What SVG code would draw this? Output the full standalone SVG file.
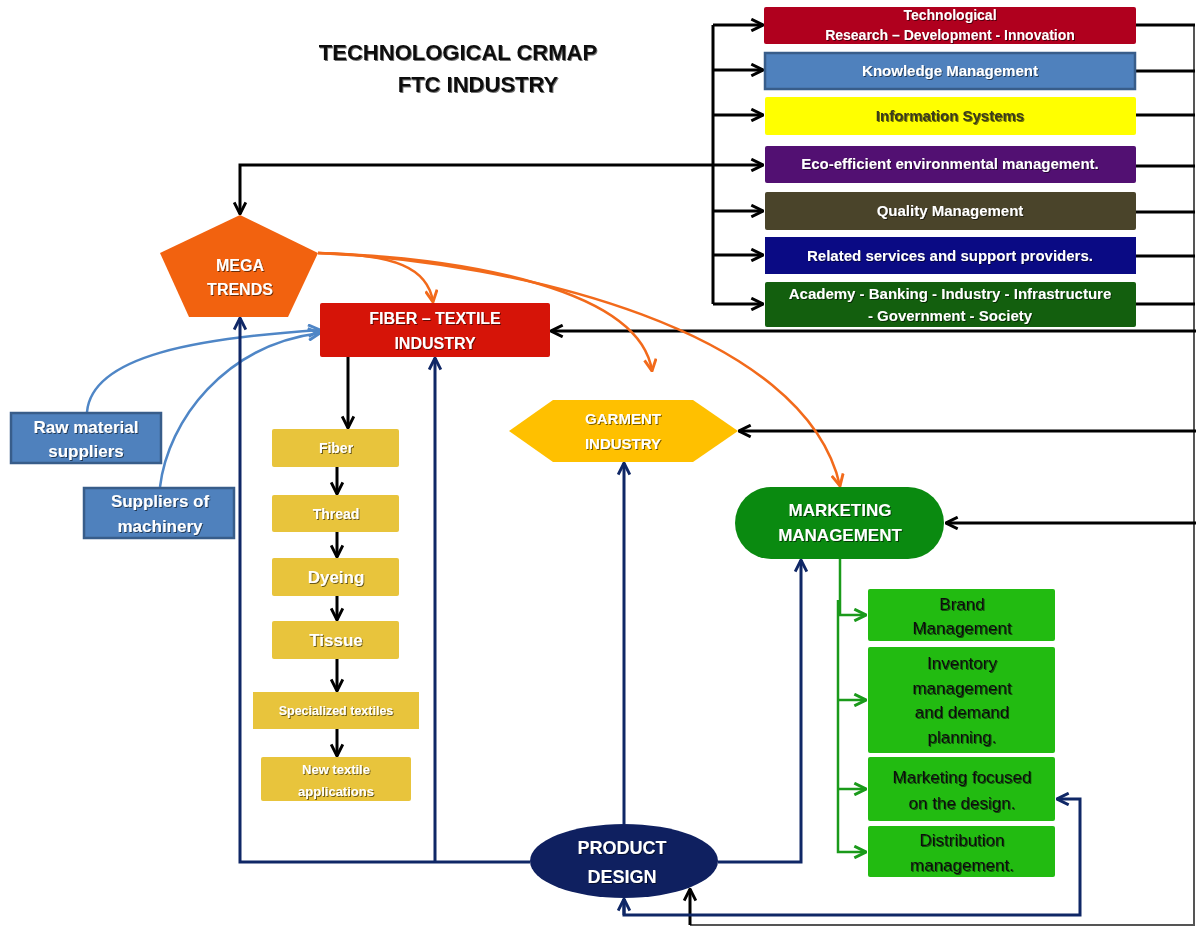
<svg xmlns="http://www.w3.org/2000/svg" width="1196" height="926" viewBox="0 0 1196 926">
<style>
text{font-family:"Liberation Sans",Arial,sans-serif;text-anchor:middle}
.w{fill:#fff;font-weight:bold}
.k{fill:#111}
.sh{filter:url(#sh)}
.bl{fill:none;stroke:#000;stroke-width:3}
.nv{fill:none;stroke:#0f2766;stroke-width:3}
.or{fill:none;stroke:#f26a1b;stroke-width:2.5}
.lb{fill:none;stroke:#4f86c6;stroke-width:2.5}
.gr{fill:none;stroke:#1a9a1a;stroke-width:2.5}
.yb{fill:#e8c43c}
.gb{fill:#22bb11}
</style>
<defs>
<filter id="sh" x="-10%" y="-30%" width="120%" height="160%"><feDropShadow dx="1" dy="1" stdDeviation="0.6" flood-color="#000" flood-opacity="0.55"/></filter>
<marker id="aK" viewBox="0 0 12 12" refX="11" refY="6" markerWidth="14" markerHeight="14" markerUnits="userSpaceOnUse" orient="auto"><path d="M1,1 L11,6 L1,11" fill="none" stroke="#000" stroke-width="2.5"/></marker>
<marker id="aN" viewBox="0 0 12 12" refX="11" refY="6" markerWidth="14" markerHeight="14" markerUnits="userSpaceOnUse" orient="auto"><path d="M1,1 L11,6 L1,11" fill="none" stroke="#0f2766" stroke-width="2.5"/></marker>
<marker id="aO" viewBox="0 0 12 12" refX="11" refY="6" markerWidth="14" markerHeight="14" markerUnits="userSpaceOnUse" orient="auto"><path d="M1,1 L11,6 L1,11" fill="none" stroke="#f26a1b" stroke-width="2.5"/></marker>
<marker id="aB" viewBox="0 0 12 12" refX="11" refY="6" markerWidth="14" markerHeight="14" markerUnits="userSpaceOnUse" orient="auto"><path d="M1,1 L11,6 L1,11" fill="none" stroke="#4f86c6" stroke-width="2.5"/></marker>
<marker id="aG" viewBox="0 0 12 12" refX="11" refY="6" markerWidth="14" markerHeight="14" markerUnits="userSpaceOnUse" orient="auto"><path d="M1,1 L11,6 L1,11" fill="none" stroke="#1a9a1a" stroke-width="2.5"/></marker>
</defs>
<rect width="1196" height="926" fill="#fff"/>

<g id="title">
<text x="458" y="60" class="sh" style="font-size:22px;font-weight:bold;fill:#111">TECHNOLOGICAL CRMAP</text>
<text x="478" y="92" class="sh" style="font-size:22px;font-weight:bold;fill:#111">FTC INDUSTRY</text>
</g>

<g id="connectors">
<path d="M1194,25 V925 H690" fill="none" stroke="#555" stroke-width="2"/>
<path class="bl" d="M713,25 V304"/>
<path class="bl" d="M713,25 H763" marker-end="url(#aK)"/>
<path class="bl" d="M713,70 H763" marker-end="url(#aK)"/>
<path class="bl" d="M713,115 H763" marker-end="url(#aK)"/>
<path class="bl" d="M713,165 H763" marker-end="url(#aK)"/>
<path class="bl" d="M713,211 H763" marker-end="url(#aK)"/>
<path class="bl" d="M713,255 H763" marker-end="url(#aK)"/>
<path class="bl" d="M713,304 H763" marker-end="url(#aK)"/>
<path class="bl" d="M713,165 H240 V214" marker-end="url(#aK)"/>
<path class="bl" d="M1136,25 H1195 M1136,71 H1195 M1136,115 H1195 M1136,166 H1195 M1136,212 H1195 M1136,256 H1195 M1136,304 H1195"/>
<path class="bl" d="M1196,331 H551" marker-end="url(#aK)"/>
<path class="bl" d="M1196,431 H739" marker-end="url(#aK)"/>
<path class="bl" d="M1196,523 H946" marker-end="url(#aK)"/>
<path class="bl" d="M690,925 V889" marker-end="url(#aK)"/>
<path class="bl" d="M348,357 V428" marker-end="url(#aK)"/>
<path class="bl" d="M337,467 V494" marker-end="url(#aK)"/>
<path class="bl" d="M337,532 V557" marker-end="url(#aK)"/>
<path class="bl" d="M337,596 V620" marker-end="url(#aK)"/>
<path class="bl" d="M337,659 V691" marker-end="url(#aK)"/>
<path class="bl" d="M337,729 V756" marker-end="url(#aK)"/>
<path class="or" d="M318,253 C395,254 428,268 433,302" marker-end="url(#aO)"/>
<path class="or" d="M318,253 C470,258 640,290 652,371" marker-end="url(#aO)"/>
<path class="or" d="M318,253 C520,262 805,330 840,486" marker-end="url(#aO)"/>
<path class="lb" d="M87,412 C92,355 200,338 320,330" marker-end="url(#aB)"/>
<path class="lb" d="M160,487 C168,420 225,345 320,333" marker-end="url(#aB)"/>
<path class="nv" d="M530,862 H240 V318" marker-end="url(#aN)"/>
<path class="nv" d="M435,862 V358" marker-end="url(#aN)"/>
<path class="nv" d="M624,824 V463" marker-end="url(#aN)"/>
<path class="nv" d="M718,862 H801 V560" marker-end="url(#aN)"/>
<path class="nv" d="M624,899 V915 H1080 V799 H1057" marker-end="url(#aN)"/>
<path class="nv" d="M624,915 V899" marker-end="url(#aN)"/>
<path class="gr" d="M840,559 V615 H866" marker-end="url(#aG)"/>
<path class="gr" d="M838,600 V852 H866" marker-end="url(#aG)"/>
<path class="gr" d="M838,700 H866" marker-end="url(#aG)"/>
<path class="gr" d="M838,789 H866" marker-end="url(#aG)"/>
</g>

<g id="n-research"><rect x="764" y="7" width="372" height="37" rx="2" fill="#b0001e"/>
<text class="w sh" x="950" y="20" style="font-size:14px">Technological</text>
<text class="w sh" x="950" y="40" style="font-size:14px">Research – Development - Innovation</text></g>
<g id="n-knowledge"><rect x="765" y="53" width="370" height="36" fill="#4f81bd" stroke="#385d8a" stroke-width="2.5"/>
<text class="w sh" x="950" y="76" style="font-size:15px">Knowledge Management</text></g>
<g id="n-info"><rect x="765" y="97" width="371" height="38" rx="2" fill="#ffff00"/>
<text class="sh" x="950" y="121" style="font-size:15px;font-weight:bold;fill:#3a3a1a">Information Systems</text></g>
<g id="n-eco"><rect x="765" y="146" width="371" height="37" rx="2" fill="#521072"/>
<text class="w sh" x="950" y="169" style="font-size:15px">Eco-efficient environmental management.</text></g>
<g id="n-quality"><rect x="765" y="192" width="371" height="38" rx="2" fill="#4a442a"/>
<text class="w sh" x="950" y="216" style="font-size:15px">Quality Management</text></g>
<g id="n-related"><rect x="765" y="237" width="371" height="37" fill="#0a0a84"/>
<text class="w sh" x="950" y="261" style="font-size:15px">Related services and support providers.</text></g>
<g id="n-academy"><rect x="765" y="282" width="371" height="45" rx="2" fill="#135f0e"/>
<text class="w sh" x="950" y="299" style="font-size:15px">Academy - Banking - Industry - Infrastructure</text>
<text class="w sh" x="950" y="321" style="font-size:15px">- Government - Society</text></g>

<g id="n-mega"><polygon points="240,215 318,253 288,317 189,317 160,253" fill="#f2620f"/>
<text class="w sh" x="240" y="271" style="font-size:16px">MEGA</text>
<text class="w sh" x="240" y="295" style="font-size:16px">TRENDS</text></g>

<g id="n-fiber"><rect x="320" y="303" width="230" height="54" rx="2" fill="#d61408"/>
<text class="w sh" x="435" y="324" style="font-size:16px">FIBER – TEXTILE</text>
<text class="w sh" x="435" y="349" style="font-size:16px">INDUSTRY</text></g>

<g id="n-raw"><rect x="11" y="413" width="150" height="50" fill="#4f81bd" stroke="#385d8a" stroke-width="2.5"/>
<text class="w sh" x="86" y="433" style="font-size:17px">Raw material</text>
<text class="w sh" x="86" y="457" style="font-size:17px">suppliers</text></g>
<g id="n-machinery"><rect x="84" y="488" width="150" height="50" fill="#4f81bd" stroke="#385d8a" stroke-width="2.5"/>
<text class="w sh" x="160" y="507" style="font-size:17px">Suppliers of</text>
<text class="w sh" x="160" y="532" style="font-size:17px">machinery</text></g>

<g id="n-p-fiber"><rect class="yb" x="272" y="429" width="127" height="38" rx="2"/><text class="w sh" x="336" y="453" style="font-size:14px">Fiber</text></g>
<g id="n-p-thread"><rect class="yb" x="272" y="495" width="127" height="37" rx="2"/><text class="w sh" x="336" y="519" style="font-size:14px">Thread</text></g>
<g id="n-p-dyeing"><rect class="yb" x="272" y="558" width="127" height="38" rx="2"/><text class="w sh" x="336" y="583" style="font-size:17px">Dyeing</text></g>
<g id="n-p-tissue"><rect class="yb" x="272" y="621" width="127" height="38" rx="2"/><text class="w sh" x="336" y="646" style="font-size:17px">Tissue</text></g>
<g id="n-p-special"><rect class="yb" x="253" y="692" width="166" height="37"/><text class="w sh" x="336" y="715" style="font-size:12.5px">Specialized textiles</text></g>
<g id="n-p-new"><rect class="yb" x="261" y="757" width="150" height="44" rx="2"/>
<text class="w sh" x="336" y="774" style="font-size:13px">New textile</text>
<text class="w sh" x="336" y="796" style="font-size:13px">applications</text></g>

<g id="n-garment"><polygon points="509,431 553,400 693,400 738,431 693,462 553,462" fill="#ffc000"/>
<text class="w sh" x="623" y="424" style="font-size:15px">GARMENT</text>
<text class="w sh" x="623" y="449" style="font-size:15px">INDUSTRY</text></g>

<g id="n-marketing"><rect x="735" y="487" width="209" height="72" rx="36" fill="#0a8a10"/>
<text class="w sh" x="840" y="516" style="font-size:17px">MARKETING</text>
<text class="w sh" x="840" y="541" style="font-size:17px">MANAGEMENT</text></g>

<g id="n-product"><ellipse cx="624" cy="861" rx="94" ry="37" fill="#0f2060"/>
<text class="w sh" x="622" y="854" style="font-size:18px">PRODUCT</text>
<text class="w sh" x="622" y="883" style="font-size:18px">DESIGN</text></g>

<g id="n-brand"><rect class="gb" x="868" y="589" width="187" height="52" rx="2"/>
<text class="k sh" x="962" y="610" style="font-size:17px">Brand</text>
<text class="k sh" x="962" y="634" style="font-size:17px">Management</text></g>
<g id="n-inventory"><rect class="gb" x="868" y="647" width="187" height="106" rx="2"/>
<text class="k sh" x="962" y="669" style="font-size:17px">Inventory</text>
<text class="k sh" x="962" y="694" style="font-size:17px">management</text>
<text class="k sh" x="962" y="718" style="font-size:17px">and demand</text>
<text class="k sh" x="962" y="743" style="font-size:17px">planning.</text></g>
<g id="n-focused"><rect class="gb" x="868" y="757" width="187" height="64" rx="2"/>
<text class="k sh" x="962" y="783" style="font-size:17px">Marketing focused</text>
<text class="k sh" x="962" y="809" style="font-size:17px">on the design.</text></g>
<g id="n-distribution"><rect class="gb" x="868" y="826" width="187" height="51" rx="2"/>
<text class="k sh" x="962" y="846" style="font-size:17px">Distribution</text>
<text class="k sh" x="962" y="871" style="font-size:17px">management.</text></g>
</svg>
